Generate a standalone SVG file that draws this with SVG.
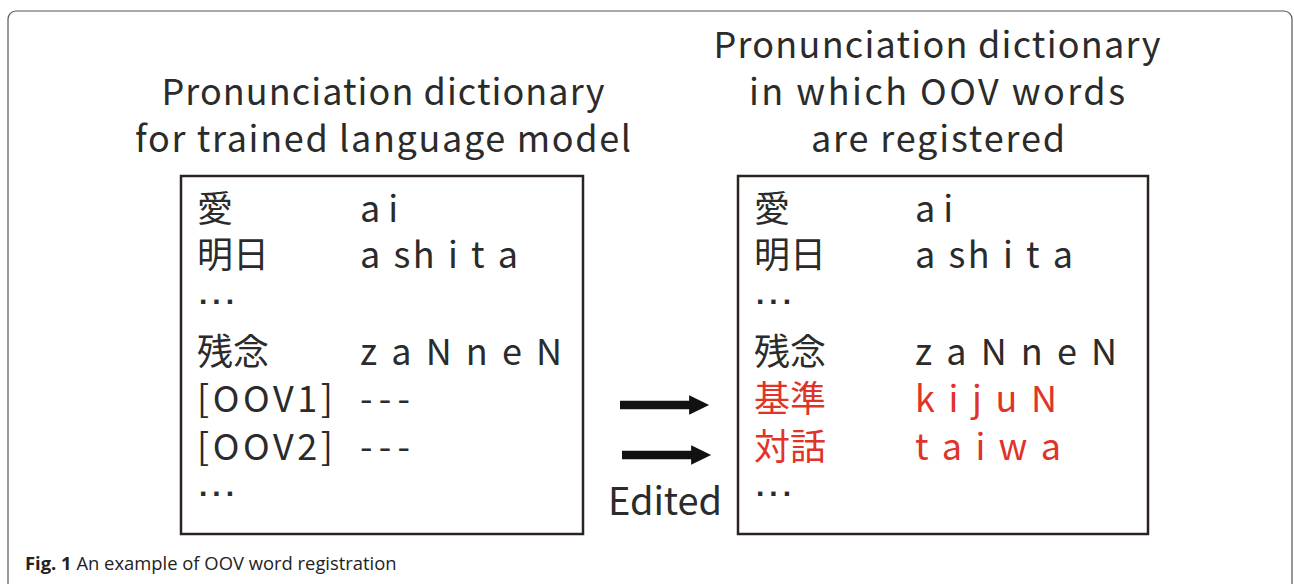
<svg xmlns="http://www.w3.org/2000/svg" width="1294" height="584" viewBox="0 0 1294 584">
<style>
.t{font-family:"Noto Sans CJK JP","Noto Sans",sans-serif;font-size:36px;fill:#2b2b2b;}
.c{text-anchor:middle;}
.r{fill:#e0342a;}
.d{font-family:"Liberation Sans",Arial,sans-serif;font-size:30px;font-weight:bold;fill:#2b2b2b;letter-spacing:5px;}
.box{fill:#fff;stroke:#2a2320;stroke-width:2.5;}
.cap{font-family:"Open Sans","Noto Sans",sans-serif;font-size:18.4px;fill:#222;}
</style>
<defs>
<marker id="ah" markerWidth="4" markerHeight="4" refX="0.1" refY="2" orient="auto" markerUnits="strokeWidth">
<path d="M0,0.85 L2.35,2 L0,3.15 Z" fill="#111"/>
</marker>
</defs>
<rect width="1294" height="584" fill="#fff"/>
<rect x="8" y="11" width="1284" height="600" rx="8" fill="none" stroke="#555" stroke-width="1.2"/>
<g id="left-title">
<text class="t c" x="383" y="105" textLength="443">Pronunciation dictionary</text>
<text class="t c" x="383" y="152" textLength="496">for trained language model</text>
</g>
<g id="right-title">
<text class="t c" x="937" y="58" textLength="447">Pronunciation dictionary</text>
<text class="t c" x="937" y="105" textLength="376">in which OOV words</text>
<text class="t c" x="938" y="152" textLength="254">are registered</text>
</g>
<g id="left-dict">
<rect class="box" x="181" y="176" width="402" height="358"/>
<text class="t" x="197" y="222">愛</text>
<text class="t" x="360" y="222">a i</text>
<text class="t" x="197" y="268">明日</text>
<text class="t" x="360" y="268" textLength="158">a sh i t a</text>
<text class="d" x="199" y="304">...</text>
<text class="t" x="197" y="365">残念</text>
<text class="t" x="360" y="365" textLength="202">z a N n e N</text>
<text class="t" x="197" y="412" textLength="136">[OOV1]</text>
<text class="t" x="360" y="412" textLength="50">---</text>
<text class="t" x="197" y="460" textLength="136">[OOV2]</text>
<text class="t" x="360" y="460" textLength="50">---</text>
<text class="d" x="199" y="496">...</text>
</g>
<g id="right-dict">
<rect class="box" x="738" y="176" width="410" height="358"/>
<text class="t" x="754" y="222">愛</text>
<text class="t" x="915" y="222">a i</text>
<text class="t" x="754" y="268">明日</text>
<text class="t" x="915" y="268" textLength="158">a sh i t a</text>
<text class="d" x="756" y="304">...</text>
<text class="t" x="754" y="365">残念</text>
<text class="t" x="915" y="365" textLength="202">z a N n e N</text>
<text class="t r" x="754" y="412">基準</text>
<text class="t r" x="915" y="412" textLength="142">k i j u N</text>
<text class="t r" x="754" y="460">対話</text>
<text class="t r" x="915" y="460" textLength="146">t a i w a</text>
<text class="d" x="756" y="496">...</text>
</g>
<g id="connectors">
<line x1="620" y1="405" x2="690" y2="405" stroke="#111" stroke-width="8.5" marker-end="url(#ah)"/>
<line x1="622" y1="455" x2="692" y2="455" stroke="#111" stroke-width="8.5" marker-end="url(#ah)"/>
</g>
<g id="edited-label">
<text class="t" x="608" y="515" textLength="114" style="font-size:38px">Edited</text>
</g>
<g id="caption">
<text class="cap" x="25" y="570"><tspan font-weight="bold">Fig. 1</tspan> An example of OOV word registration</text>
</g>
</svg>
